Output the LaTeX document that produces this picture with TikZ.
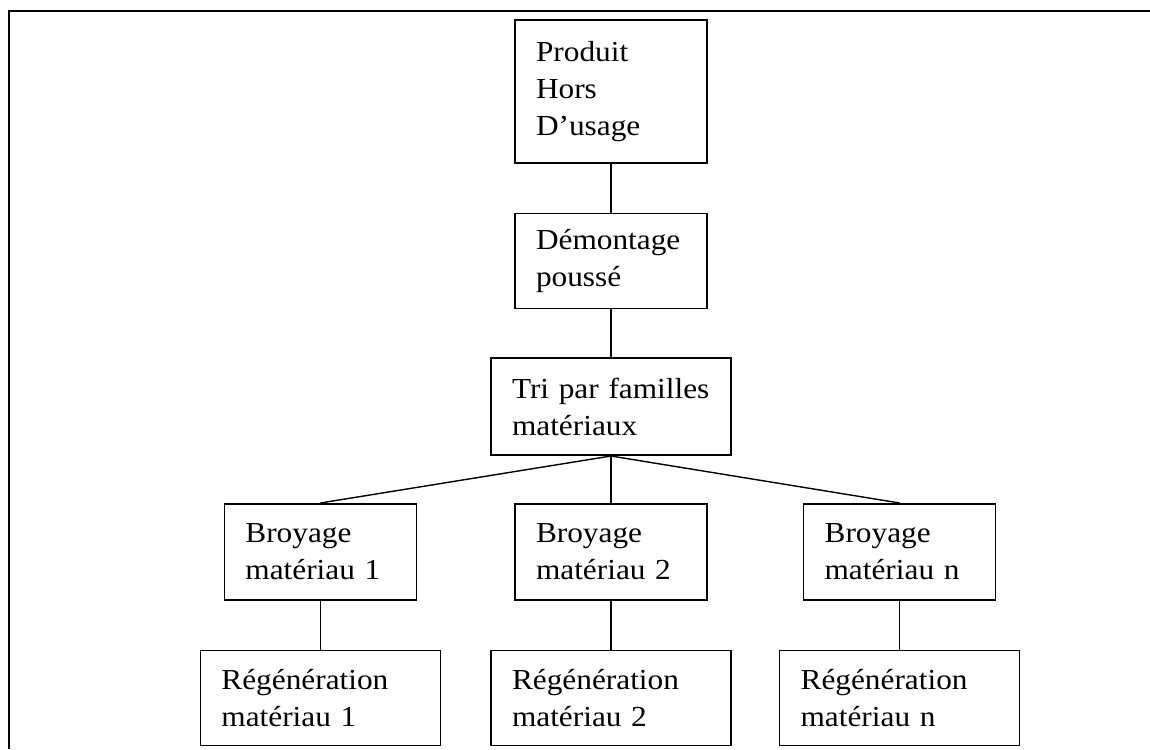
\documentclass[tikz,border=0pt]{standalone}
\usepackage{fontspec}
\setmainfont{Liberation Serif}[FakeStretch=1.08]
\usetikzlibrary{positioning}

\begin{document}
\begin{tikzpicture}[auto,node distance=24.5pt,
    etape/.style={draw,line width=0.8pt,rectangle,inner xsep=10.5pt,inner ysep=0pt,
      align=left,font=\fontsize{14.5}{18.5}\selectfont},
    petit/.style={etape,text width=75pt,minimum width=96pt},
    large/.style={etape,text width=99pt,minimum width=120pt},
    lien/.style={line width=0.7pt}]
      \useasboundingbox (0,0) rectangle (575pt,-374.5pt);
      \draw[line width=1.1pt] (4.5pt,-374.5pt) |- (575pt,-5.5pt);
      \node[petit,minimum height=71.5pt] (prod) at (305.5pt,-45.75pt) {Produit\\Hors\\D’usage\\[2pt]};
      \node[petit,minimum height=47.5pt] (dem) [below = 24.5pt of prod] {Démontage\\poussé};
      \node[large,minimum height=48.5pt] (tri) [below = 24pt of dem] {Tri par familles\\matériaux};
      \node[petit,minimum height=48pt] (bro2) [below = 23.5pt of tri] {Broyage\\matériau 2};
      \node[petit,minimum height=48pt] (bro1) [left = 48.5pt of bro2] {Broyage\\matériau 1};
      \node[petit,minimum height=48pt] (bron) [right = 47.5pt of bro2] {Broyage\\matériau n};
      \node[large,minimum height=47.5pt] (reg1) [below = 24.5pt of bro1] {Régénération\\matériau 1};
      \node[large,minimum height=47.5pt] (reg2) [below = 24.5pt of bro2] {Régénération\\matériau 2};
      \node[large,minimum height=47.5pt] (regn) [below = 24.5pt of bron] {Régénération\\matériau n};
      \path[lien] (prod) edge (dem)
        (dem) edge (tri)
        (tri.south) edge (bro1.north)
        (tri.south) edge (bro2.north)
        (tri.south) edge (bron.north)
        (bro1) edge (reg1)
        (bro2) edge (reg2)
        (bron) edge (regn);
    \end{tikzpicture}
\end{document}
